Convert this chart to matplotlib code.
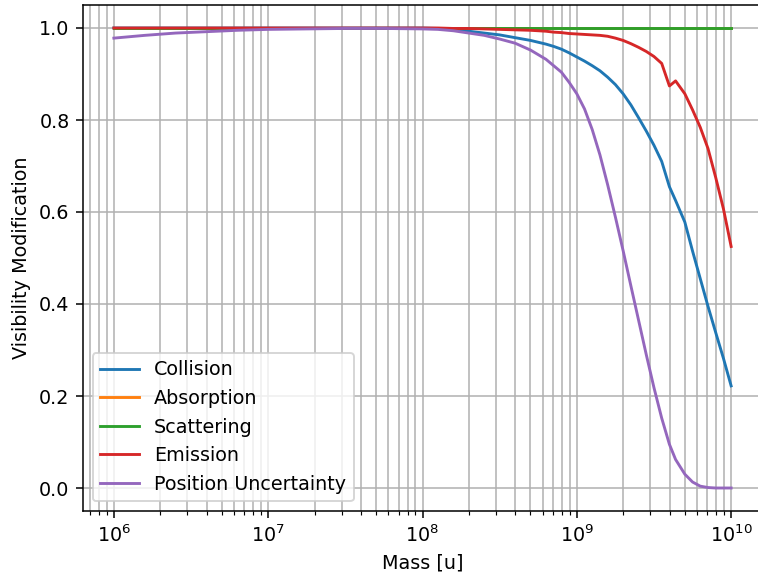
import matplotlib
matplotlib.use("Agg")
import matplotlib.pyplot as plt
import numpy as np

# mass grid (log10 of mass in u)
log_mass = [6.0, 6.2, 6.4, 6.6, 6.8, 7.0, 7.25, 7.5, 7.75,
            8.0, 8.1, 8.2, 8.3, 8.4, 8.5, 8.6, 8.7, 8.8,
            8.85, 8.9, 8.95, 9.0, 9.05, 9.1, 9.15, 9.2, 9.25, 9.3,
            9.35, 9.4, 9.45, 9.5, 9.55, 9.6, 9.64,
            9.7, 9.75, 9.8, 9.85, 9.9, 9.95, 10.0]

collision = [1.0, 1.0, 1.0, 1.0, 1.0, 1.0, 1.0, 1.0, 1.0,
             1.0, 0.999, 0.997, 0.993, 0.989, 0.985, 0.979, 0.973, 0.965,
             0.96, 0.954, 0.946, 0.937, 0.928, 0.918, 0.907, 0.893, 0.877,
             0.857, 0.833, 0.805, 0.776, 0.745, 0.71, 0.655, 0.625,
             0.578, 0.515, 0.455, 0.395, 0.338, 0.282, 0.222]
absorption = [1.0] * len(log_mass)
scattering = [1.0] * len(log_mass)
emission = [1.0, 1.0, 1.0, 1.0, 1.0, 1.0, 1.0, 1.0, 1.0,
            1.0, 1.0, 0.999, 0.999, 0.998, 0.997, 0.996, 0.995, 0.993,
            0.991, 0.99, 0.988, 0.987, 0.986, 0.985, 0.984, 0.982, 0.978,
            0.973, 0.966, 0.958, 0.949, 0.938, 0.923, 0.874, 0.885,
            0.857, 0.822, 0.784, 0.738, 0.675, 0.607, 0.525]
position = [0.978, 0.984, 0.989, 0.992, 0.995, 0.997, 0.998, 0.999, 0.999,
            0.998, 0.997, 0.994, 0.989, 0.984, 0.976, 0.967, 0.952, 0.932,
            0.918, 0.904, 0.882, 0.857, 0.824, 0.779, 0.724, 0.659, 0.589,
            0.516, 0.44, 0.365, 0.29, 0.218, 0.152, 0.095, 0.062,
            0.03, 0.013, 0.004, 0.001, 0.0, 0.0, 0.0]

mass = 10 ** np.array(log_mass)

dpi = 138
fig, ax = plt.subplots(figsize=(758 / dpi, 577 / dpi), dpi=dpi)
fig.subplots_adjust(left=83 / 758, right=762 / 758, top=1 - 5 / 577,
                    bottom=1 - 511 / 577)

ax.plot(mass, collision, label="Collision")
ax.plot(mass, absorption, label="Absorption")
ax.plot(mass, scattering, label="Scattering")
ax.plot(mass, emission, label="Emission")
ax.plot(mass, position, label="Position Uncertainty")

ax.set_xscale("log")
ax.set_xlabel("Mass [u]")
ax.set_ylabel("Visibility Modification")
ax.grid(True, which="both")
ax.legend(loc="lower left")

fig.savefig("out.png", dpi=dpi)
